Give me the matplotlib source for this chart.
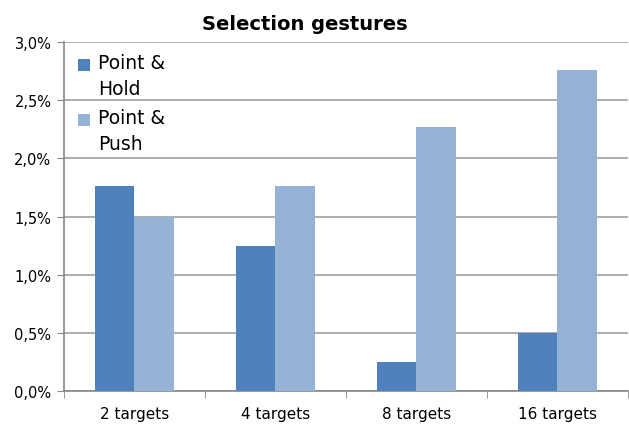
import matplotlib
matplotlib.use("Agg")
import matplotlib.pyplot as plt
import numpy as np
from matplotlib.ticker import FuncFormatter
from matplotlib.patches import Rectangle
from matplotlib.legend_handler import HandlerPatch

categories = ["2 targets", "4 targets", "8 targets", "16 targets"]
series_names = ["Point &\nHold", "Point &\nPush"]
hold = [1.76, 1.25, 0.25, 0.50]
push = [1.50, 1.76, 2.27, 2.76]
colors = ["#4F81BD", "#95B3D7"]

fig = plt.figure(figsize=(6.29, 4.27), dpi=100)
ax = fig.add_axes([0.1017, 0.082, 0.8963, 0.817])

x = np.arange(len(categories))
w = 0.28
b1 = ax.bar(x - w/2, hold, w, color=colors[0], label=series_names[0], zorder=3)
b2 = ax.bar(x + w/2, push, w, color=colors[1], label=series_names[1], zorder=3)

ax.set_xlim(-0.5, len(categories) - 0.5)
ax.set_ylim(0, 3.0)
ax.set_yticks(np.arange(0, 3.01, 0.5))
ax.yaxis.set_major_formatter(FuncFormatter(lambda v, p: f"{v:.1f}%".replace(".", ",")))
ax.set_xticks(x)
ax.set_xticklabels(categories)
ax.set_xticks(np.arange(-0.5, len(categories), 1.0), minor=True)
ax.tick_params(axis="x", which="major", length=0, pad=11, labelsize=11)
ax.tick_params(axis="x", which="minor", length=5, color="#888888", direction="out")
ax.tick_params(axis="y", length=5, color="#888888", labelsize=10.5, pad=4)

ax.grid(axis="y", color="#A0A0A0", linewidth=1.2, zorder=0)
for s in ["top", "right"]:
    ax.spines[s].set_visible(False)
ax.spines["left"].set_color("#888888")
ax.spines["bottom"].set_color("#888888")
ax.spines["left"].set_linewidth(1.2)
ax.spines["bottom"].set_linewidth(1.2)

fig.text(305 / 629, 1 - 24 / 427, "Selection gestures", fontsize=14,
         fontweight="bold", ha="center", va="center")

LEG_FS = 13.5


def top_square(legend, orig_handle, xdescent, ydescent, width, height, fontsize):
    shift = 0.62 * fontsize
    return Rectangle((-xdescent, -ydescent + shift), width, height)


h1, h2 = b1.patches[0], b2.patches[0]
leg = ax.legend(handles=[h1, h2], labels=series_names, loc="upper left",
                bbox_to_anchor=(0.005, 1.0), frameon=False,
                fontsize=LEG_FS, handlelength=0.65, handleheight=0.65, handletextpad=0.4,
                labelspacing=0.55, borderaxespad=0.2,
                handler_map={h1: HandlerPatch(patch_func=top_square),
                             h2: HandlerPatch(patch_func=top_square)})
for t in leg.get_texts():
    t.set_linespacing(1.45)

fig.savefig("out.png", dpi=100)
